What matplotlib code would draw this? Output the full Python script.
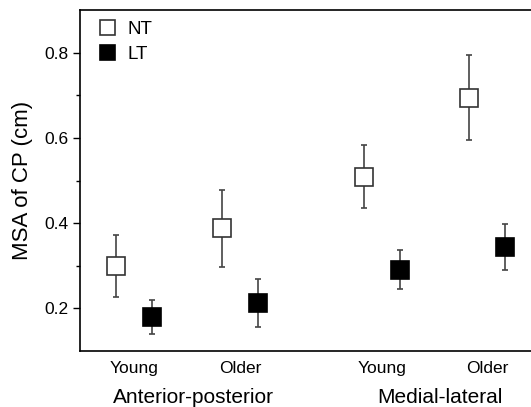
import matplotlib
matplotlib.use("Agg")
import matplotlib.pyplot as plt
import numpy as np

plt.rcParams["font.family"] = ["Liberation Sans", "DejaVu Sans"]

# ======================================================
# DATA
# ======================================================

groups = ["Anterior-posterior", "Medial-lateral"]
ages = ["Young", "Older", "Young", "Older"]
nt_mean = [0.300, 0.388, 0.509, 0.694]
nt_err = [0.073, 0.090, 0.074, 0.100]
lt_mean = [0.180, 0.212, 0.291, 0.344]
lt_err = [0.040, 0.056, 0.046, 0.053]

# category centres (gap between the two directions)
xpos = np.array([1.0, 2.0, 3.34, 4.33])
off = 0.17

# ======================================================
# FIGURE
# ======================================================

fig = plt.figure(figsize=(5.31, 4.07), dpi=100)
ax = fig.add_axes([80 / 531, 56 / 407, 500 / 531, 341 / 407])

ax.errorbar(xpos - off, nt_mean, yerr=nt_err, fmt="s", ms=13.5, mfc="white",
            mec="#333333", mew=1.2, ecolor="#444444", elinewidth=1.2,
            capsize=2.5, capthick=1.2, label="NT", zorder=3)
ax.errorbar(xpos + off, lt_mean, yerr=lt_err, fmt="s", ms=13.5, mfc="black",
            mec="black", mew=1.2, ecolor="#444444", elinewidth=1.2,
            capsize=2.5, capthick=1.2, label="LT", zorder=3)

ax.set_xlim(0.49, 0.49 + 500 / 106)
ax.set_ylim(0.1, 0.9)
ax.set_yticks([0.2, 0.4, 0.6, 0.8])
ax.set_yticks([0.3, 0.5, 0.7], minor=True)
ax.set_xticks(xpos)
ax.set_xticklabels(ages)
ax.tick_params(axis="y", which="major", length=5, width=1, labelsize=12.5)
ax.tick_params(axis="y", which="minor", length=3, width=1)
ax.tick_params(axis="x", length=0, labelsize=12.5, pad=7)
ax.spines["right"].set_visible(False)
for s in ["left", "top", "bottom"]:
    ax.spines[s].set_linewidth(1.2)

ax.set_ylabel("MSA of CP (cm)", fontsize=16, labelpad=8)

ax.text(np.mean(xpos[:2]) + 0.06, -0.135, groups[0], transform=ax.get_xaxis_transform(),
        ha="center", va="center", fontsize=15)
ax.text(np.mean(xpos[2:]) + 0.05, -0.135, groups[1], transform=ax.get_xaxis_transform(),
        ha="center", va="center", fontsize=15)

handles, labels = ax.get_legend_handles_labels()
handles = [h[0] for h in handles]
ax.legend(handles, labels, loc="upper left", frameon=False, fontsize=13.5,
          markerscale=0.8, handlelength=1.0, handletextpad=0.6, labelspacing=0.4,
          borderaxespad=0, bbox_to_anchor=(0.02, 0.99))

fig.savefig("out.png", dpi=100)
